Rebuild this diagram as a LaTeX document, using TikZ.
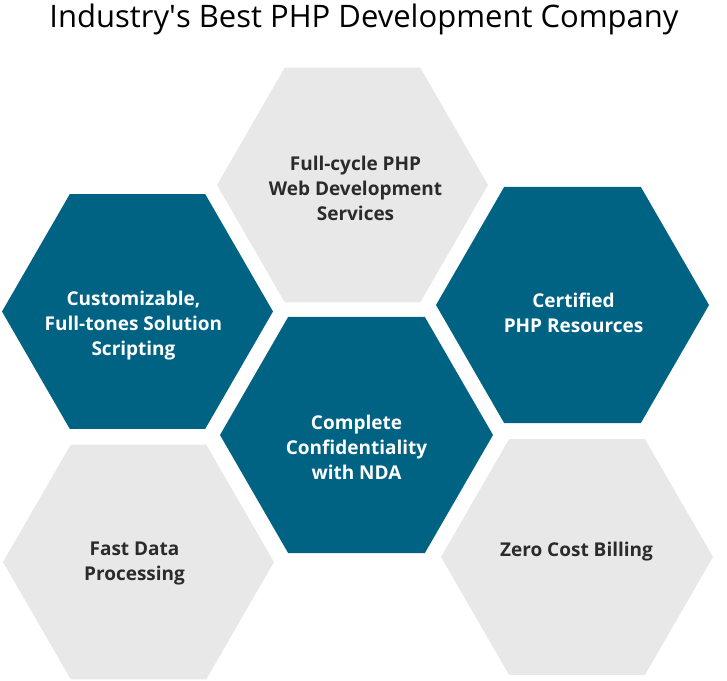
\documentclass[tikz,border=0pt]{standalone}
\usepackage{fontspec}
\setmainfont{Open Sans}
\definecolor{hexteal}{HTML}{006384}
\definecolor{hexgray}{HTML}{E8E8E8}
\definecolor{txtdark}{HTML}{2B2B2B}
\tikzset{
  tealhex/.style={fill=hexteal},
  grayhex/.style={fill=hexgray},
  hextxt/.style={font=\bfseries\fontsize{19}{25}\selectfont, align=center, inner sep=0pt, text height=14pt, text depth=4pt},
  tealtxt/.style={hextxt, text=white},
  graytxt/.style={hextxt, text=txtdark},
}
\newcommand{\hexat}[3]{\fill[#3] (#1) +(0:#2) -- +(60:#2) -- +(120:#2) -- +(180:#2) -- +(240:#2) -- +(300:#2) -- cycle;}
\begin{document}
\begin{tikzpicture}[x=1pt,y=-1pt]
\useasboundingbox (0,0) rectangle (727,680);
\coordinate (cTop) at (352.5,185);
\coordinate (cLeft) at (137.5,311.5);
\coordinate (cRight) at (572.5,305);
\coordinate (cMid) at (356.5,435);
\coordinate (cBL) at (138.5,562);
\coordinate (cBR) at (577,557);
\hexat{cTop}{135.5}{grayhex}
\hexat{cLeft}{135.5}{tealhex}
\hexat{cRight}{136.5}{tealhex}
\hexat{cMid}{136.5}{tealhex}
\hexat{cBL}{135.5}{grayhex}
\hexat{cBR}{136}{grayhex}
\node[anchor=base, text=black, font=\fontsize{31}{36}\selectfont] (title) at (364,27) {Industry\textquotesingle s Best PHP Development Company};
\node[graytxt] (tTop) at (355.5,215) {Full-cycle PHP\\Web Development\\Services};
\node[tealtxt] (tLeft) at (133.5,350) {Customizable,\\Full-tones Solution\\Scripting};
\node[tealtxt] (tRight) at (573.5,327.7) {Certified\\PHP Resources};
\node[tealtxt] (tMid) at (356.5,474) {Complete\\Confidentiality\\with NDA};
\node[graytxt] (tBL) at (134.5,575.7) {Fast Data\\Processing};
\node[graytxt] (tBR) at (576.5,551) {Zero Cost Billing};
\end{tikzpicture}
\end{document}
